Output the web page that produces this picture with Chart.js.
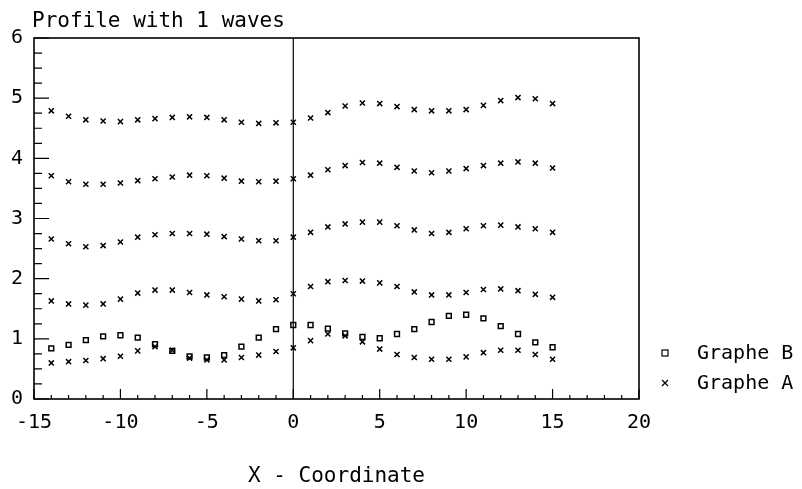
<!DOCTYPE html>
<html>
<head>
<meta charset="utf-8">
<script src="https://cdn.jsdelivr.net/npm/chart.js@4.4.1/dist/chart.umd.min.js"></script>
<style>
  body { margin: 0; background: #fff; }
  #wrap { width: 802px; height: 489px; }
</style>
</head>
<body>
<div id="wrap"><canvas id="profile" width="802" height="489"></canvas></div>
<script>
var FONT = "'DejaVu Sans Mono', monospace";

// x positions of the profile samples
var xValues = [-14, -13, -12, -11, -10, -9, -8, -7, -6, -5, -4, -3, -2, -1, 0,
               1, 2, 3, 4, 5, 6, 7, 8, 9, 10, 11, 12, 13, 14, 15];

// Graphe A : five profiles (x markers)
var graphA1 = [4.79, 4.70, 4.64, 4.62, 4.61, 4.64, 4.66, 4.68, 4.69, 4.68, 4.64, 4.60, 4.58, 4.59, 4.60,
               4.67, 4.76, 4.87, 4.92, 4.91, 4.86, 4.81, 4.79, 4.79, 4.81, 4.88, 4.96, 5.01, 4.99, 4.91];
var graphA2 = [3.71, 3.61, 3.57, 3.57, 3.59, 3.63, 3.66, 3.69, 3.72, 3.71, 3.67, 3.62, 3.61, 3.62, 3.66,
               3.72, 3.81, 3.88, 3.93, 3.92, 3.85, 3.79, 3.76, 3.79, 3.83, 3.88, 3.92, 3.94, 3.92, 3.84];
var graphA3 = [2.66, 2.58, 2.53, 2.55, 2.61, 2.69, 2.73, 2.75, 2.75, 2.74, 2.70, 2.66, 2.63, 2.63, 2.69,
               2.77, 2.86, 2.91, 2.94, 2.94, 2.88, 2.81, 2.75, 2.77, 2.83, 2.88, 2.89, 2.86, 2.83, 2.77];
var graphA4 = [1.63, 1.58, 1.56, 1.58, 1.66, 1.76, 1.81, 1.81, 1.77, 1.73, 1.70, 1.66, 1.63, 1.65, 1.75,
               1.87, 1.95, 1.97, 1.96, 1.93, 1.87, 1.78, 1.73, 1.73, 1.77, 1.82, 1.83, 1.80, 1.74, 1.69];
var graphA5 = [0.60, 0.62, 0.64, 0.67, 0.71, 0.80, 0.87, 0.81, 0.68, 0.65, 0.65, 0.69, 0.73, 0.79, 0.85,
               0.97, 1.08, 1.05, 0.95, 0.83, 0.74, 0.69, 0.66, 0.66, 0.70, 0.77, 0.81, 0.81, 0.74, 0.66];

// Graphe B : one profile (square markers)
var graphB = [0.84, 0.90, 0.98, 1.04, 1.06, 1.02, 0.91, 0.80, 0.71, 0.69, 0.73, 0.87, 1.02, 1.16, 1.23,
              1.23, 1.17, 1.09, 1.03, 1.01, 1.08, 1.16, 1.28, 1.38, 1.40, 1.34, 1.21, 1.08, 0.94, 0.86];

var xTicks = [-15, -10, -5, 0, 5, 10, 15, 20];
var yTicks = [0, 1, 2, 3, 4, 5, 6];

function toPoints(xs, ys) {
  var pts = [];
  for (var i = 0; i < xs.length; i++) {
    pts.push({x: xs[i], y: ys[i]});
  }
  return pts;
}

var pointsA = [].concat(
  toPoints(xValues, graphA1), toPoints(xValues, graphA2), toPoints(xValues, graphA3),
  toPoints(xValues, graphA4), toPoints(xValues, graphA5));

// box, zero line, inward ticks, title and legend
var framePlugin = {
  id: "frame",
  afterDraw: function(chart) {
    var ctx = chart.ctx;
    var a = chart.chartArea;
    var xs = chart.scales.x, ys = chart.scales.y;
    ctx.save();
    ctx.strokeStyle = "#000";
    ctx.lineWidth = 1.6;
    ctx.strokeRect(a.left, a.top, a.right - a.left, a.bottom - a.top);

    var x0 = xs.getPixelForValue(0);
    ctx.lineWidth = 1.2;
    ctx.beginPath();
    ctx.moveTo(x0, a.top);
    ctx.lineTo(x0, a.bottom);
    ctx.stroke();

    ctx.lineWidth = 1.2;
    ctx.beginPath();
    for (var v = -15; v <= 20; v++) {
      var px = xs.getPixelForValue(v);
      var len = (v % 5 === 0) ? 10 : 4;
      ctx.moveTo(px, a.bottom);
      ctx.lineTo(px, a.bottom - len);
    }
    for (var q = 0; q <= 24; q++) {
      var py = ys.getPixelForValue(q / 4);
      var l2 = (q % 4 === 0) ? 15 : 8;
      ctx.moveTo(a.left, py);
      ctx.lineTo(a.left + l2, py);
    }
    ctx.stroke();

    ctx.fillStyle = "#000";
    ctx.font = "21px " + FONT;
    ctx.textAlign = "left";
    ctx.textBaseline = "alphabetic";
    ctx.fillText("Profile with 1 waves", 32, 27);

    // legend
    ctx.font = "20px " + FONT;
    ctx.textBaseline = "middle";
    ctx.lineWidth = 1.2;
    ctx.strokeRect(662, 350, 6, 6);
    ctx.fillText(chart.data.datasets[0].label, 697, 354);
    ctx.beginPath();
    ctx.moveTo(662, 380); ctx.lineTo(668, 386);
    ctx.moveTo(668, 380); ctx.lineTo(662, 386);
    ctx.stroke();
    ctx.fillText(chart.data.datasets[1].label, 697, 384);
    ctx.restore();
  }
};

new Chart(document.getElementById("profile").getContext("2d"), {
  type: "scatter",
  data: {
    datasets: [{
      label: "Graphe B",
      data: toPoints(xValues, graphB),
      pointStyle: "rect",
      pointRadius: 3.4,
      borderColor: "#000",
      backgroundColor: "rgba(0,0,0,0)",
      borderWidth: 1.5
    }, {
      label: "Graphe A",
      data: pointsA,
      pointStyle: "crossRot",
      pointRadius: 3.6,
      borderColor: "#000",
      backgroundColor: "#000",
      borderWidth: 1.5
    }]
  },
  options: {
    responsive: false,
    animation: false,
    layout: {padding: {left: 0, right: 163, top: 38, bottom: 0}},
    plugins: {legend: {display: false}, tooltip: {enabled: false}},
    scales: {
      x: {
        type: "linear",
        min: -15,
        max: 20,
        afterFit: function(scale) { scale.height = 90; },
        afterBuildTicks: function(scale) {
          scale.ticks = xTicks.map(function(v) { return {value: v}; });
        },
        grid: {display: false, drawTicks: false},
        border: {display: false},
        ticks: {color: "#000", padding: 12, font: {family: FONT, size: 20}},
        title: {display: true, text: "X - Coordinate", color: "#000",
                padding: {top: 0, bottom: 0}, font: {family: FONT, size: 21}}
      },
      y: {
        type: "linear",
        min: 0,
        max: 6,
        afterFit: function(scale) { scale.width = 34; },
        afterBuildTicks: function(scale) {
          scale.ticks = yTicks.map(function(v) { return {value: v}; });
        },
        grid: {display: false, drawTicks: false},
        border: {display: false},
        ticks: {color: "#000", padding: 11, font: {family: FONT, size: 20}}
      }
    }
  },
  plugins: [framePlugin]
});
</script>
</body>
</html>
